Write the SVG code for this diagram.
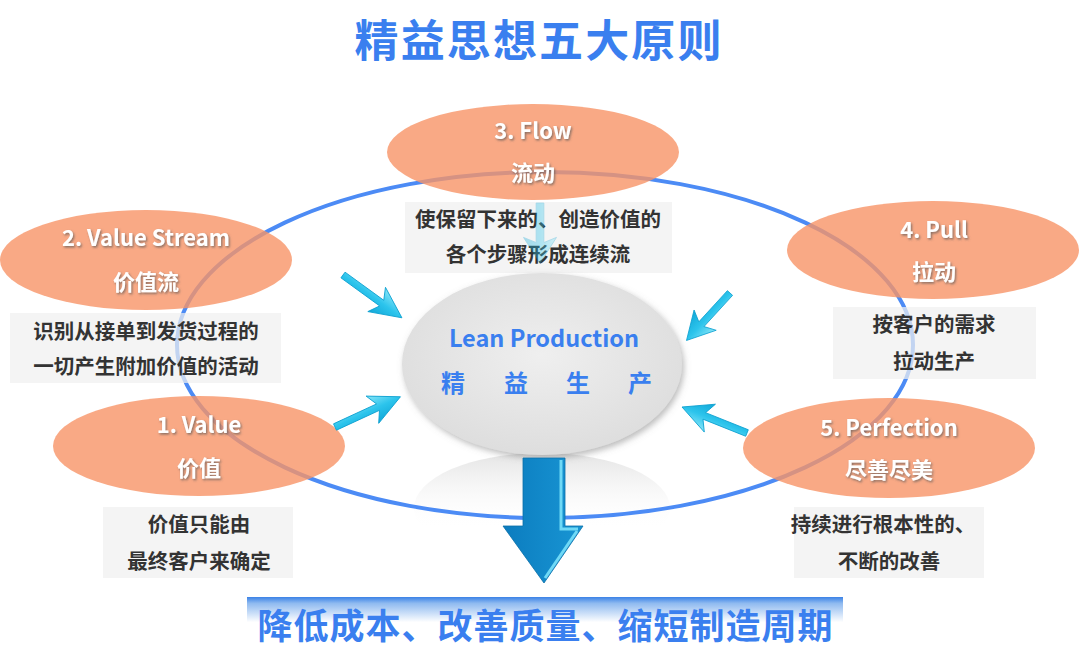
<svg xmlns="http://www.w3.org/2000/svg" width="1080" height="652" viewBox="0 0 1080 652">
<defs>
<style>
.cn{font-family:"Noto Sans CJK SC","Noto Sans",sans-serif;font-weight:700}
.oval{fill:#F89466;fill-opacity:0.8}
.otxt{font-size:22px;fill:#ffffff;text-anchor:middle;filter:url(#tshadow)}
.box{fill:#f0f0f0;fill-opacity:0.72}
.dtxt{font-size:20.5px;fill:#333333;text-anchor:middle}
.blue{fill:#3A7FEF}
</style>
<filter id="tshadow" x="-20%" y="-30%" width="140%" height="160%">
<feDropShadow dx="1.2" dy="1.5" stdDeviation="0.8" flood-color="#555" flood-opacity="0.7"/>
</filter>
<filter id="cshadow" x="-20%" y="-20%" width="140%" height="150%">
<feDropShadow dx="2" dy="3" stdDeviation="3" flood-color="#777" flood-opacity="0.5"/>
</filter>
<radialGradient id="cgrad" cx="50%" cy="45%" r="60%">
<stop offset="0" stop-color="#efefef"/>
<stop offset="1" stop-color="#dcdcdc"/>
</radialGradient>
<linearGradient id="refl" x1="0" y1="0" x2="0" y2="1">
<stop offset="0" stop-color="#e4e4e4"/>
<stop offset="0.7" stop-color="#ffffff" stop-opacity="0"/>
</linearGradient>
<linearGradient id="cyan" x1="0" y1="0" x2="0" y2="1">
<stop offset="0" stop-color="#8ae6f8"/>
<stop offset="0.5" stop-color="#2cc4ec"/>
<stop offset="1" stop-color="#12a8d8"/>
</linearGradient>
<linearGradient id="big" x1="0" y1="0" x2="1" y2="0">
<stop offset="0" stop-color="#0b7cbf"/>
<stop offset="1" stop-color="#1996d4"/>
</linearGradient>
<linearGradient id="banner" x1="0" y1="0" x2="0" y2="1">
<stop offset="0" stop-color="#3b82e6"/>
<stop offset="0.15" stop-color="#8fbaf0"/>
<stop offset="0.6" stop-color="#ffffff"/>
</linearGradient>
<polygon id="carrow" points="0,-3.5 46,-3.5 40,-15 70,0 40,15 46,3.5 0,3.5" fill="url(#cyan)" stroke="#0a9fd0" stroke-width="0.8"/>
</defs>
<rect width="1080" height="652" fill="#ffffff"/>

<!-- title -->
<text class="cn blue" x="538" y="57" font-size="44" text-anchor="middle" textLength="367" lengthAdjust="spacing">精益思想五大原则</text>

<!-- reflection under center -->
<ellipse cx="542" cy="508" rx="128" ry="55" fill="url(#refl)"/>

<!-- ring -->
<ellipse id="ring" cx="545" cy="345" rx="368" ry="173" fill="none" stroke="#4C8BF5" stroke-width="4"/>

<g id="node-flow">
<ellipse class="oval" cx="533" cy="152" rx="146" ry="48"/>
<text class="cn otxt" x="533" y="139">3. Flow</text>
<text class="cn otxt" x="533" y="181">流动</text>
<rect class="box" x="405" y="202" width="267" height="71"/>
<text class="cn dtxt" x="538" y="227">使保留下来的、创造价值的</text>
<text class="cn dtxt" x="538" y="262">各个步骤形成连续流</text>
</g>

<g id="node-valuestream">
<ellipse class="oval" cx="146" cy="260" rx="146" ry="50"/>
<text class="cn otxt" x="146" y="246">2. Value Stream</text>
<text class="cn otxt" x="146" y="290">价值流</text>
<rect class="box" x="10" y="313" width="271" height="70"/>
<text class="cn dtxt" x="146" y="339">识别从接单到发货过程的</text>
<text class="cn dtxt" x="146" y="374">一切产生附加价值的活动</text>
</g>

<g id="node-pull">
<ellipse class="oval" cx="933" cy="250" rx="146" ry="49"/>
<text class="cn otxt" x="934" y="238">4. Pull</text>
<text class="cn otxt" x="934" y="280">拉动</text>
<rect class="box" x="833" y="307" width="203" height="72"/>
<text class="cn dtxt" x="934" y="332">按客户的需求</text>
<text class="cn dtxt" x="934" y="369">拉动生产</text>
</g>

<g id="node-value">
<ellipse class="oval" cx="199" cy="446" rx="146" ry="50"/>
<text class="cn otxt" x="199" y="433">1. Value</text>
<text class="cn otxt" x="199" y="476">价值</text>
<rect class="box" x="103" y="507" width="190" height="71"/>
<text class="cn dtxt" x="199" y="532">价值只能由</text>
<text class="cn dtxt" x="199" y="569">最终客户来确定</text>
</g>

<g id="node-perfection">
<ellipse class="oval" cx="889" cy="448" rx="146" ry="50"/>
<text class="cn otxt" x="889" y="436">5. Perfection</text>
<text class="cn otxt" x="889" y="478">尽善尽美</text>
<rect class="box" x="794" y="507" width="190" height="71"/>
<text class="cn dtxt" x="883" y="532">持续进行根本性的、</text>
<text class="cn dtxt" x="889" y="569">不断的改善</text>
</g>

<g id="connectors">
<use href="#carrow" transform="translate(540,203) rotate(90) scale(0.86,1.1)" opacity="0.35"/>
<use href="#carrow" transform="translate(343,275) rotate(36) scale(1.04,1)"/>
<use href="#carrow" transform="translate(335,427) rotate(-24.8) scale(1.03,1)"/>
<use href="#carrow" transform="translate(730,293) rotate(132.5) scale(0.92,1)"/>
<use href="#carrow" transform="translate(747,433) rotate(201.8) scale(1,1)"/>
</g>

<g id="node-center">
<ellipse cx="542" cy="364" rx="140" ry="91" fill="url(#cgrad)" filter="url(#cshadow)"/>
<text class="cn blue" x="544" y="347" font-size="23.5" text-anchor="middle">Lean Production</text>
<text class="cn blue" font-size="24" text-anchor="middle" y="392"><tspan x="453">精</tspan><tspan x="516">益</tspan><tspan x="578">生</tspan><tspan x="640">产</tspan></text>
</g>

<g id="down-arrow">
<polygon points="523,458 565,458 565,526 583,526 544,583 503,526 523,526" fill="url(#big)" stroke="#0a6ea8" stroke-width="0.8"/>
<polyline points="561,460 561,529 578,529" fill="none" stroke="#6fd9f6" stroke-width="3"/>
<line x1="577" y1="531" x2="545" y2="578" stroke="#6fd9f6" stroke-width="3"/>
</g>

<g id="result">
<rect x="247" y="597" width="596" height="42" fill="url(#banner)"/>
<text class="cn blue" x="545" y="639" font-size="35" text-anchor="middle" textLength="575" lengthAdjust="spacing">降低成本、改善质量、缩短制造周期</text>
</g>
</svg>
